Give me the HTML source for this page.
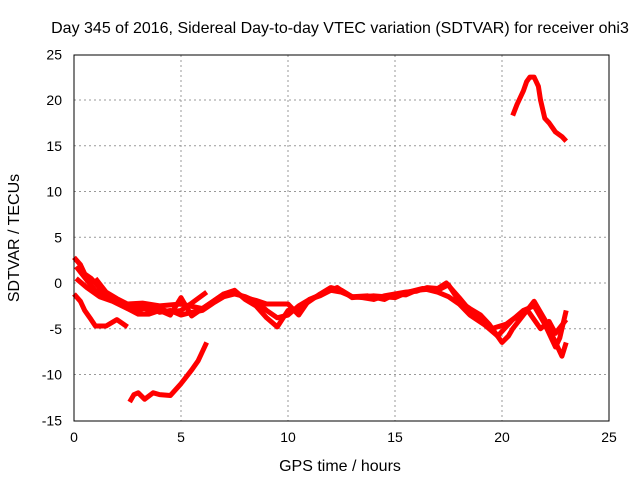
<!DOCTYPE html>
<html><head><meta charset="utf-8"><style>
body{margin:0;background:#fff}
svg{display:block;font-family:"Liberation Sans",sans-serif;font-size:12px}
</style></head><body>
<svg id="c" width="640" height="480">
<text x="340" y="33" text-anchor="middle" font-size="16">Day 345 of 2016, Sidereal Day-to-day VTEC variation (SDTVAR) for receiver ohi3</text>
<text x="340" y="471" text-anchor="middle" font-size="16">GPS time / hours</text>
<text transform="translate(19,238) rotate(-90)" text-anchor="middle" font-size="16">SDTVAR / TECUs</text>
<g id="grid"></g><g id="series"></g>
<rect x="74" y="55" width="535" height="366" fill="none" stroke="#000"/>
<g id="axes"></g>
</svg>
<script>
const xTicks=[0,5,10,15,20,25];
const yTicks=[25,20,15,10,5,0,-5,-10,-15];
const track1=[[0,2.8],[0.3,2],[0.5,1],[0.8,0.5],[1,0],[1.3,-0.8],[1.5,-1.5],[2,-2.2],[2.5,-2.5],[3,-3],[3.5,-2.6],[4,-3.2],[4.5,-3],[5,-3.5],[5.5,-3.2],[6,-3],[6.5,-2.2],[7,-1.5],[7.5,-1.2],[8,-1.5],[8.5,-2],[9,-3],[9.5,-3.8],[10,-3.5],[10.5,-2.5],[11,-1.8],[11.5,-1.4],[12,-0.8],[12.5,-1],[13,-1.5],[13.5,-1.6],[14,-1.8],[14.5,-1.4],[15,-1.2],[15.5,-1.3],[16,-0.8],[16.5,-0.7],[17,-0.8],[17.5,-0.2],[18,-2],[18.5,-2.8],[19,-3.5],[19.4,-4.5],[19.7,-5.5],[20,-6.5],[20.3,-5.8],[20.5,-5],[21,-3.5],[21.5,-2],[22,-4],[22.5,-6.5],[22.8,-8],[23,-6.5]];
const track2=[[0,-1.2],[0.3,-2],[0.5,-3],[0.8,-4],[1,-4.7],[1.5,-4.7],[2,-4],[2.5,-4.8]];
const track3=[[0.1,1.8],[0.6,0.3],[1,-0.8],[1.5,-1.4],[2,-2],[2.5,-2.7],[3,-2.5],[3.5,-3],[4,-2.8],[4.5,-3.2],[5,-3],[5.5,-2.2],[6.2,-1]];
const track4=[[0.1,0.5],[0.6,-0.5],[1.2,-1.5],[1.8,-2],[2.5,-2.8],[3,-3.4],[3.5,-3.4],[4,-3],[4.5,-3.5],[5,-1.6],[5.5,-3.6],[6,-2.8],[6.5,-2],[7,-1.2],[7.5,-0.8],[8,-1.8],[8.5,-2.5],[9,-3.8],[9.5,-4.8],[10,-3],[10.5,-2.8],[11,-2],[11.5,-1.2],[12,-0.5],[12.5,-0.8],[13,-1.5],[13.7,-1.4],[14.5,-1.8],[15,-1.2],[15.5,-1],[16,-0.9],[16.5,-0.5],[17,-0.6],[17.4,0],[18,-1.6],[18.5,-3],[19,-3.8],[19.5,-5],[20.2,-4.5],[20.6,-3.8],[21,-3],[21.5,-2.5],[22,-4.5],[22.5,-7],[22.7,-6],[23,-3]];
const track5=[[1,0.5],[1.5,-1],[2,-1.7],[2.5,-2.3],[3.2,-2.2],[4,-2.5],[5,-2.3],[6,-2.8],[6.5,-2],[7,-1.2],[7.5,-1],[8,-1.6],[8.5,-1.9],[9,-2.3],[10,-2.3],[10.5,-3.5],[11,-1.8],[11.6,-1.2],[12.3,-0.5],[13,-1.6],[14,-1.4],[15,-1.6],[15.6,-1],[16.3,-0.6],[17,-1],[17.5,-1.5],[18,-2.3],[18.5,-3.5],[19.2,-4.6],[19.8,-5.8],[20.5,-4],[21.2,-3],[21.8,-5],[22.2,-4.2],[22.5,-5.5],[23,-4]];
const lowSeg=[[2.6,-13],[2.8,-12.2],[3,-12],[3.3,-12.7],[3.7,-12],[4,-12.2],[4.5,-12.3],[5,-11],[5.5,-9.5],[5.8,-8.5],[6,-7.5],[6.2,-6.5]];
const highSeg=[[20.5,18.3],[20.7,19.5],[20.8,20],[21,21],[21.15,22],[21.3,22.5],[21.5,22.5],[21.7,21.5],[21.8,20],[22,18],[22.2,17.5],[22.5,16.5],[22.8,16],[23,15.5]];
const X=v=>74+v*535/25, Y=v=>283-v*9.15;
const NS='http://www.w3.org/2000/svg';
function mk(t,a,p){const e=document.createElementNS(NS,t);for(const k in a)e.setAttribute(k,a[k]);p.appendChild(e);return e;}
const g=document.getElementById('grid'),ax=document.getElementById('axes'),s=document.getElementById('series');
xTicks.forEach(v=>{
 if(v>0&&v<25){const l=mk('line',{x1:X(v),x2:X(v),y1:55,y2:421,stroke:'#999','stroke-dasharray':'2,3'},g);
 
 }
 const t=mk('text',{x:X(v),y:442,'text-anchor':'middle','font-size':14},ax);t.textContent=v;
 
 
});
yTicks.forEach(v=>{
 if(v<25&&v>-15){const l=mk('line',{x1:74,x2:609,y1:Y(v),y2:Y(v),stroke:'#999','stroke-dasharray':'2,3'},g);
 
 }
 const t=mk('text',{x:62,y:Y(v)+5,'text-anchor':'end','font-size':14},ax);t.textContent=v;
 
 
});
[track1,track2,track3,track4,track5,lowSeg,highSeg].forEach(d=>{
 const p=mk('polyline',{points:d.map(q=>X(q[0])+','+Y(q[1])).join(' '),fill:'none',stroke:'#f00','stroke-width':5,'stroke-linejoin':'round'},s);
 
 
});
</script>
</body></html>
